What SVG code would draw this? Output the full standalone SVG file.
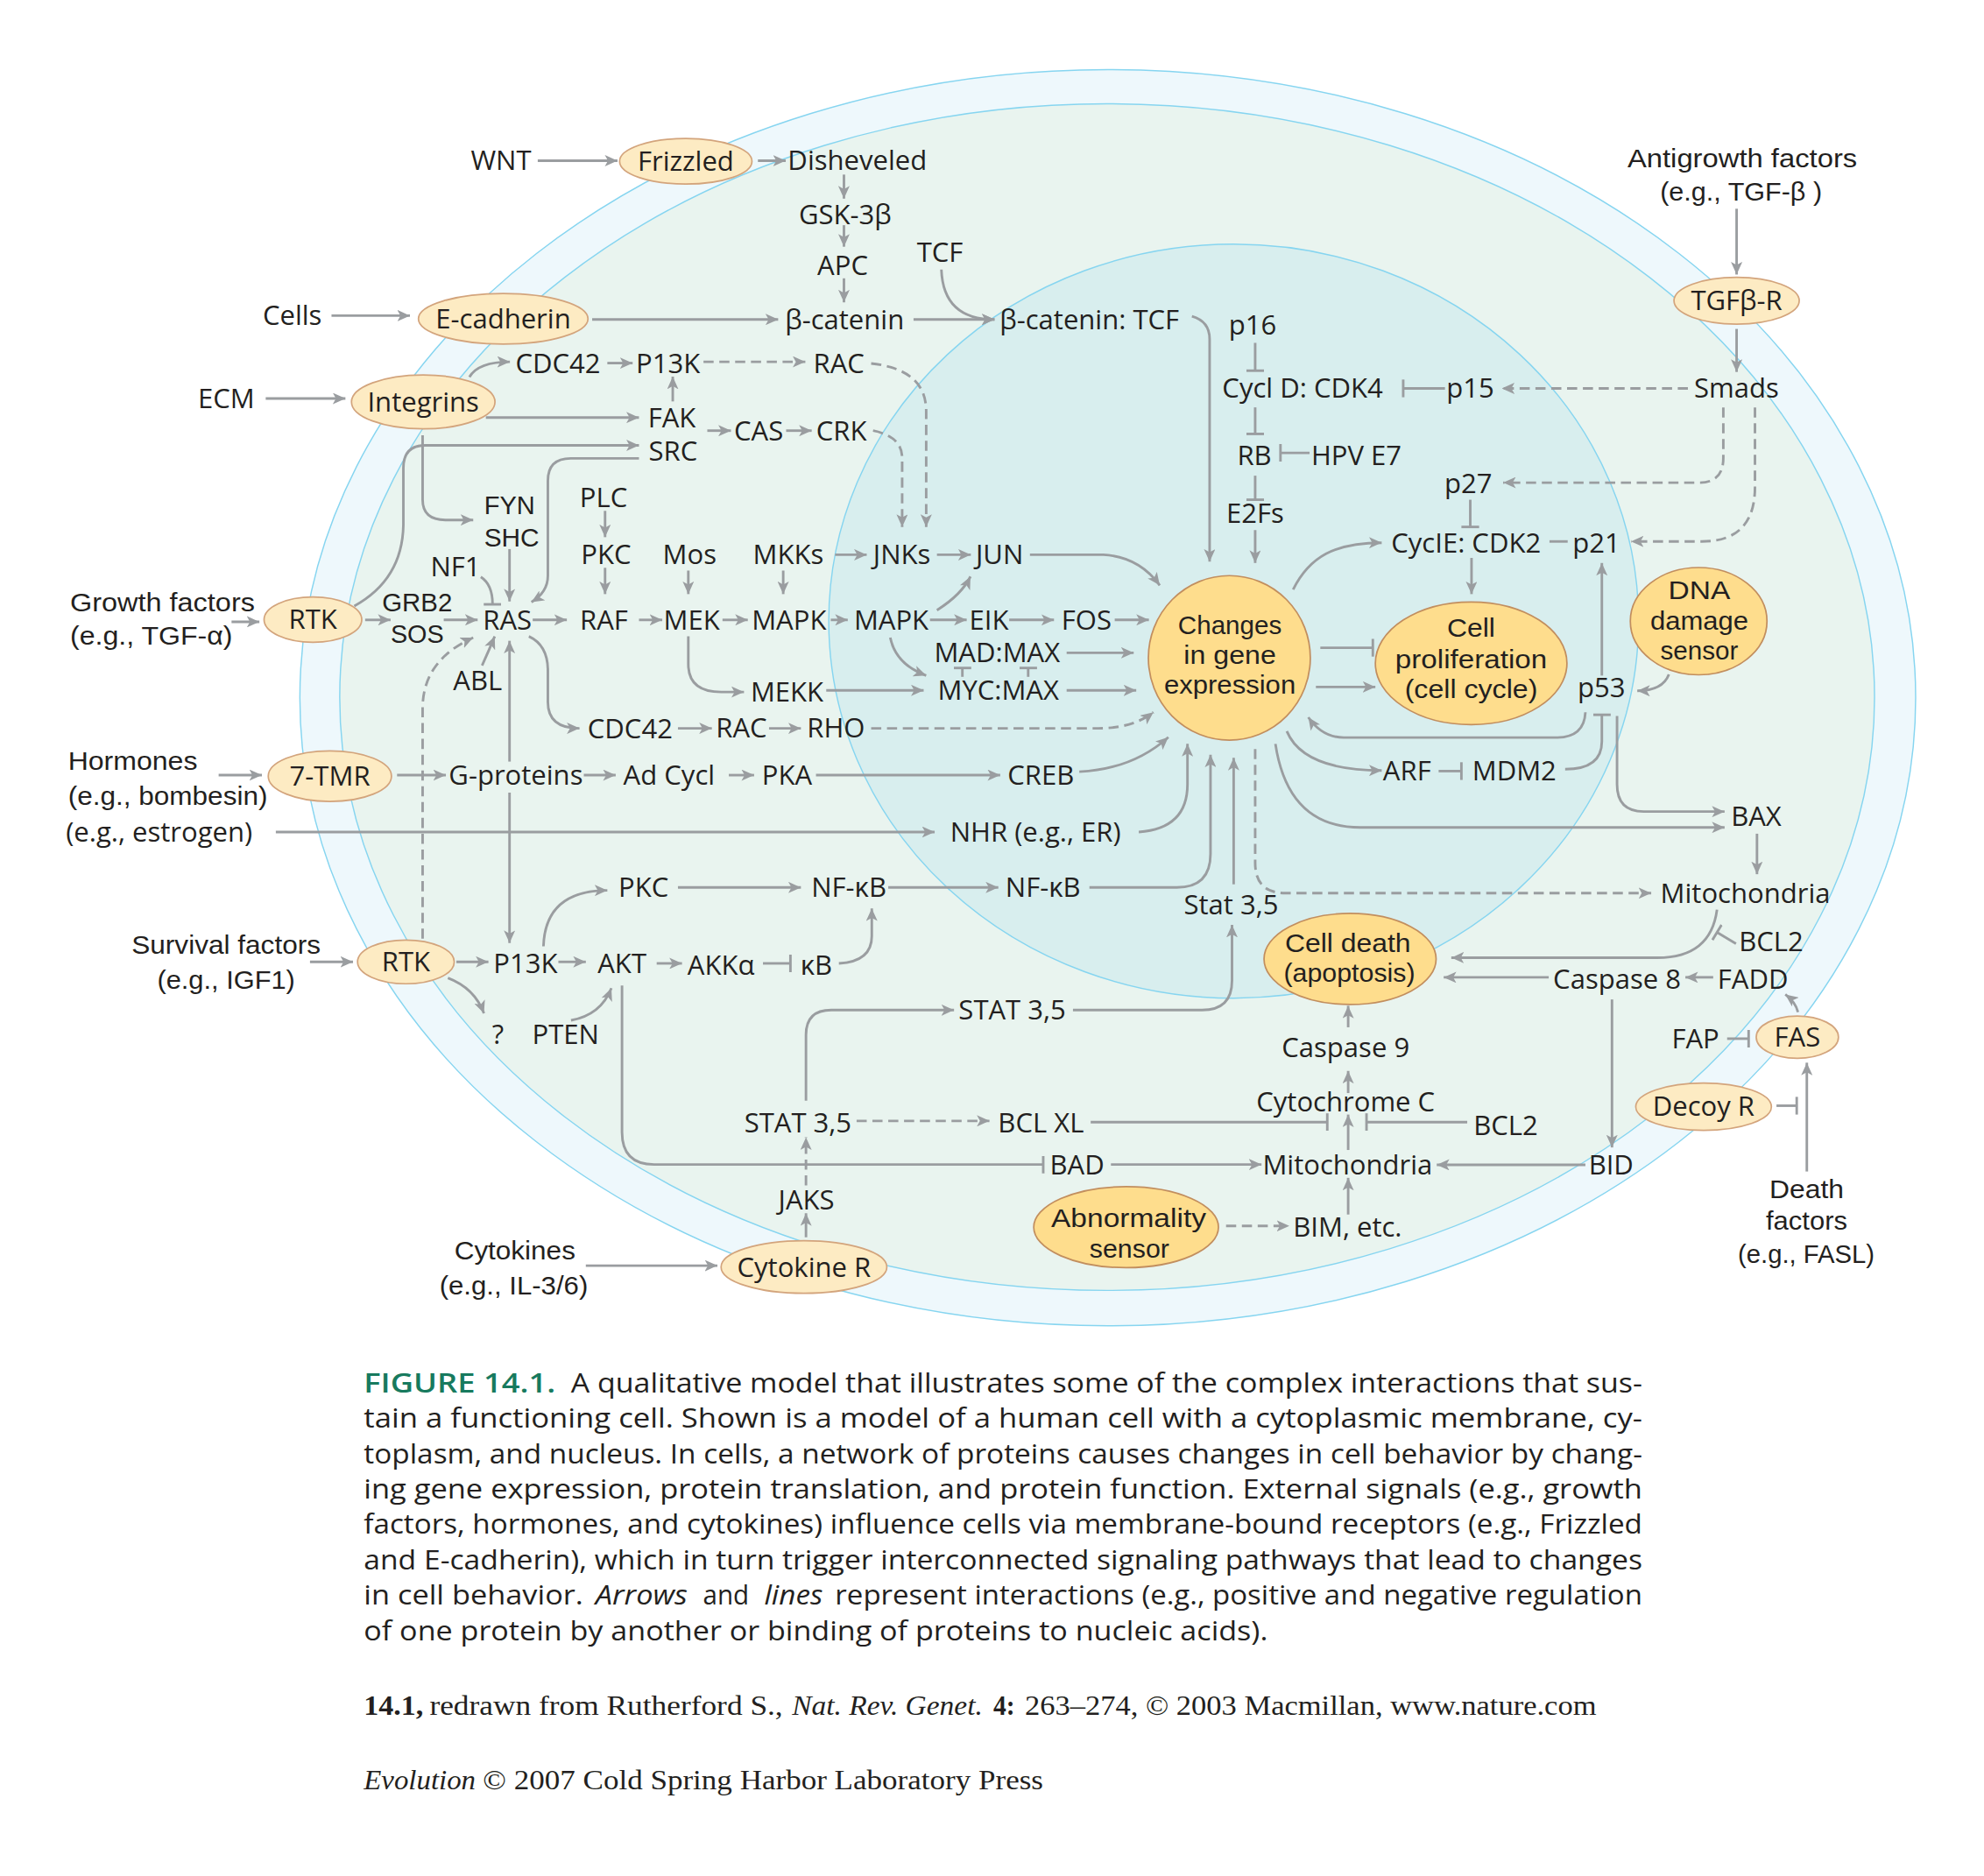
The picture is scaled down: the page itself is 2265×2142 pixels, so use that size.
<svg xmlns="http://www.w3.org/2000/svg" width="2265" height="2142" viewBox="0 0 2265 2142">
<style>
.lb{font-family:"Open Sans","Liberation Sans",sans-serif;font-size:21.5px;fill:#231f20;text-anchor:middle}
.lm{font-family:"Liberation Sans","Open Sans",sans-serif;font-size:21px;fill:#231f20;text-anchor:middle}
.c{fill:none;stroke:#9a9da0;stroke-width:2}
.d{stroke-dasharray:8 4.5}
.a{marker-end:url(#a)}
.t{marker-end:url(#t)}
.e1{fill:#fdebc3;stroke:#d3a47c;stroke-width:1.2}
.e2{fill:#fedd8d;stroke:#c28e5e;stroke-width:1.2}
.cap{font-family:"Open Sans","Liberation Sans",sans-serif;font-size:21px;fill:#231f20}
.ser{font-family:"Liberation Serif","Times New Roman",serif;font-size:22px;fill:#231f20}
.mem{stroke:#86d5f0;stroke-width:1}
</style>
<defs>
<marker id="a" viewBox="0 0 10 9" refX="10" refY="4.5" markerWidth="10" markerHeight="9" orient="auto" markerUnits="userSpaceOnUse"><path d="M0,0 L10,4.5 L0,9 L2.5,4.5 z" fill="#9a9da0"/></marker>
<marker id="t" viewBox="0 0 3 14" refX="1.5" refY="7" markerWidth="3" markerHeight="14" orient="auto" markerUnits="userSpaceOnUse"><path d="M1.5,0 V14" stroke="#9a9da0" stroke-width="2"/></marker>
</defs>
<rect width="2265" height="2142" fill="#ffffff"/>
<g transform="scale(1.4445)">
<g id="cell">
<ellipse class="mem" cx="875.5" cy="551.5" rx="638.5" ry="496.5" fill="#eef8fc"/>
<ellipse class="mem" cx="875" cy="551" rx="606.5" ry="469" fill="#e9f4ef"/>
<ellipse class="mem" cx="975" cy="491" rx="320" ry="298" fill="#d8eeee"/>
</g>
<g id="connectors">
<path class="c a" d="M425,127 H488"/>
<path class="c a" d="M599,127 H621"/>
<path class="c a" d="M667,138 V157"/>
<path class="c a" d="M667,178 V195"/>
<path class="c a" d="M667,220 V239"/>
<path class="c a" d="M262,249.5 H324"/>
<path class="c a" d="M210,315 H273"/>
<path class="c a" d="M468,252.5 H615"/>
<path class="c a" d="M722,252.5 H786"/>
<path class="c a" d="M744,213 C745,240 760,252.5 786,252.5"/>
<path class="c a" d="M942,250 Q956,254 956,268 V444"/>
<path class="c a" d="M1372.5,165 V217"/>
<path class="c a" d="M1372.5,260 V294"/>
<path class="c d a" d="M1334,307 H1187"/>
<path class="c t" d="M1142,307 H1109"/>
<path class="c t" d="M992,271 V293"/>
<path class="c t" d="M992,322 V343"/>
<path class="c t" d="M1035,358 H1012"/>
<path class="c t" d="M992,376 V395"/>
<path class="c a" d="M992,419 V445"/>
<path class="c d a" d="M1362,322 V362 Q1362,381.5 1343,381.5 H1188"/>
<path class="c d a" d="M1387,322 V385 Q1387,428 1345,428 H1289"/>
<path class="c t" d="M1162,395 V416.5"/>
<path class="c" d="M1224.6,428 H1239"/>
<path class="c a" d="M1163,441 V469.6"/>
<path class="c a" d="M1022,466 C1035,440 1055,429 1092,429"/>
<path class="c a" d="M1266,534 V445"/>
<path class="c a" d="M1319,533 Q1314,546 1294,546"/>
<path class="c a" d="M1253,563 Q1252,583 1230,583 H1062 Q1045,583 1034,567"/>
<path class="c t" d="M1237,608 Q1266,608 1266,586 V565"/>
<path class="c a" d="M1278,566 V620 Q1278,641.5 1299,641.5 H1363"/>
<path class="c a" d="M1008,588 Q1018,654 1075,654 H1363"/>
<path class="c a" d="M1017,578 Q1030,609 1092,609"/>
<path class="c t" d="M1137,609.5 H1155"/>
<path class="c t" d="M1043.5,512 H1085"/>
<path class="c a" d="M1040,543 H1087"/>
<path class="c a" d="M1388.6,659 V691"/>
<path class="c d a" d="M992,592 V682 Q992,706 1016,706 H1305"/>
<path class="c a" d="M1357,719 Q1352,757 1310,757 H1147"/>
<path class="c t" d="M1372,746 L1357,737"/>
<path class="c a" d="M1224,772.5 H1141"/>
<path class="c a" d="M1354,772.5 H1332"/>
<path class="c a" d="M1421,800 Q1419,792 1411,786"/>
<path class="c t" d="M1365,821 H1382"/>
<path class="c t" d="M1404,874 H1420"/>
<path class="c a" d="M1428,926 V840"/>
<path class="c a" d="M1274,790 V907"/>
<path class="c a" d="M1253,920.7 H1135.5"/>
<path class="c a" d="M1065.5,909 V881"/>
<path class="c a" d="M1065.5,864 V846.5"/>
<path class="c a" d="M1065.5,812 V795"/>
<path class="c a" d="M1065.5,960 V931"/>
<path class="c t" d="M1159.6,887 H1080"/>
<path class="c t" d="M862,887 H1049"/>
<path class="c a" d="M878,920.5 H997"/>
<path class="c t" d="M491.6,779 V895 Q491.6,920.5 517,920.5 H824.5"/>
<path class="c d a" d="M969,969 H1019"/>
<path class="c a" d="M463,1000.4 H567"/>
<path class="c a" d="M637,978 V959"/>
<path class="c d a" d="M637,937 V899"/>
<path class="c d a" d="M677,886 H782"/>
<path class="c a" d="M637,870 V818 Q637,798.4 657,798.4 H754"/>
<path class="c a" d="M848,798.4 H950 Q973.7,798.4 973.7,775 V731"/>
<path class="c a" d="M975,699 V599"/>
<path class="c a" d="M861,701.5 H930 Q956.7,701.5 956.7,675 V596.5"/>
<path class="c a" d="M900,657.7 Q938.5,655 938.5,620 V588"/>
<path class="c a" d="M853,610 Q895,608 923.4,582.7"/>
<path class="c d a" d="M688.5,575.7 H868 Q895,575.7 911.6,563"/>
<path class="c a" d="M843,545.7 H898"/>
<path class="c a" d="M843,516 H896"/>
<path class="c a" d="M881,490 H908"/>
<path class="c a" d="M797.6,490 H833"/>
<path class="c a" d="M735,490 H764"/>
<path class="c a" d="M740.5,482.3 Q760,470 767,455.7"/>
<path class="c a" d="M703.6,504 Q708,525 732,534"/>
<path class="c a" d="M653,545.7 H730"/>
<path class="c a" d="M544,503 V525 Q544,547 570,547 H588"/>
<path class="c t" d="M760.6,535 V528"/>
<path class="c t" d="M812.6,535 V528"/>
<path class="c a" d="M656.6,490 H670"/>
<path class="c a" d="M571,490 H591"/>
<path class="c a" d="M505,490 H523.4"/>
<path class="c a" d="M544,451 V469.6"/>
<path class="c a" d="M619,451 V469.6"/>
<path class="c a" d="M660,438.5 H685"/>
<path class="c a" d="M740.5,438.5 H767.3"/>
<path class="c a" d="M814,438.5 H872 Q900,440 916.6,462.7"/>
<path class="c d a" d="M688.5,287.3 Q732,292 732,325 V416.5"/>
<path class="c d a" d="M690,340.4 Q713,345 713,362 V416.5"/>
<path class="c d a" d="M556,286 H636.5"/>
<path class="c a" d="M531.7,317.3 V297.7"/>
<path class="c a" d="M480,287 H500"/>
<path class="c a" d="M559,340.4 H577.7"/>
<path class="c a" d="M621.3,340.4 H641.5"/>
<path class="c a" d="M371,298 Q378,286 403,286"/>
<path class="c a" d="M384,330 H505"/>
<path class="c a" d="M280,479 Q318,458 318.8,415 V370 Q318.8,352 336,352 H505"/>
<path class="c a" d="M334,344 V395 Q334,411 352,411 H374"/>
<path class="c a" d="M505,362.3 H451 Q433,362.3 433,380 V455 Q433,468 420,476"/>
<path class="c a" d="M402.7,434 V475.4"/>
<path class="c t" d="M380,456 Q389.3,462 389.3,477.7"/>
<path class="c a" d="M288.6,490 H308.7"/>
<path class="c a" d="M350.7,490 H377.5"/>
<path class="c a" d="M183,491.5 H205"/>
<path class="c a" d="M421,490 H448"/>
<path class="c a" d="M478.2,403.8 V424.6"/>
<path class="c a" d="M478.2,448.8 V469.6"/>
<path class="c a" d="M381,526 Q386,515 391,503"/>
<path class="c d a" d="M334,742 V560 Q334,522 374,504"/>
<path class="c a" d="M402.7,602 V506.5"/>
<path class="c a" d="M402.7,626.5 V745.4"/>
<path class="c a" d="M313.8,612.7 H352.4"/>
<path class="c a" d="M172.8,612.7 H207"/>
<path class="c a" d="M461.4,612.7 H486.6"/>
<path class="c a" d="M576,612.7 H596"/>
<path class="c a" d="M644.9,612.7 H790.5"/>
<path class="c a" d="M218,657.7 H738.7"/>
<path class="c a" d="M418,503 Q433,510 433,530 V555 Q433,575.7 458,575.7"/>
<path class="c a" d="M535.8,575.7 H562.6"/>
<path class="c a" d="M607.8,575.7 H633"/>
<path class="c a" d="M360.7,760.3 H386"/>
<path class="c a" d="M245,760.3 H279"/>
<path class="c a" d="M354,773 Q375,781 382.5,801"/>
<path class="c a" d="M441.3,760.3 H463"/>
<path class="c a" d="M519,761.5 H539"/>
<path class="c t" d="M603,761.5 H624.7"/>
<path class="c a" d="M663,761.5 Q689,760 689,740 V718"/>
<path class="c a" d="M451.3,806.5 Q475,802 483.2,781"/>
<path class="c a" d="M429.5,748 Q431,704 480,703.8"/>
<path class="c a" d="M535.8,701.5 H633"/>
<path class="c a" d="M702,701.5 H789"/>
</g>
<g id="nodes">
<g id="n-wnt"><text class="lb" x="396" y="134.5">WNT</text></g>
<g id="n-frizzled"><ellipse class="e1" cx="542" cy="127.5" rx="52.3" ry="18"/><text class="lb" x="542" y="135">Frizzled</text></g>
<g id="n-disheveled"><text class="lb" x="677.6" y="134.5">Disheveled</text></g>
<g id="n-gsk"><text class="lb" x="668" y="177">GSK-3β</text></g>
<g id="n-apc"><text class="lb" x="666" y="217.4">APC</text></g>
<g id="n-tcf"><text class="lb" x="742.8" y="207">TCF</text></g>
<g id="n-cells"><text class="lb" x="231" y="257">Cells</text></g>
<g id="n-ecad"><ellipse class="e1" cx="397.7" cy="252" rx="67" ry="20"/><text class="lb" x="397.7" y="259.5">E-cadherin</text></g>
<g id="n-bcat"><text class="lb" x="667.5" y="260">β-catenin</text></g>
<g id="n-bcattcf"><text class="lb" x="861" y="260">β-catenin: TCF</text></g>
<g id="n-antigrowth"><text class="lm" x="1377" y="132" textLength="181.6" lengthAdjust="spacingAndGlyphs">Antigrowth factors</text><text class="lm" x="1376" y="158.5" textLength="128" lengthAdjust="spacingAndGlyphs">(e.g., TGF-β )</text></g>
<g id="n-tgfbr"><ellipse class="e1" cx="1372.5" cy="237.7" rx="49.5" ry="18.5"/><text class="lb" x="1372.5" y="245.2">TGFβ-R</text></g>
<g id="n-p16"><text class="lb" x="990" y="264.5">p16</text></g>
<g id="n-cycld"><text class="lb" x="1029.5" y="314.4">Cycl D: CDK4</text></g>
<g id="n-p15"><text class="lb" x="1162" y="314.4">p15</text></g>
<g id="n-smads"><text class="lb" x="1372.4" y="314.4">Smads</text></g>
<g id="n-ecm"><text class="lb" x="178.8" y="322.5">ECM</text></g>
<g id="n-integrins"><ellipse class="e1" cx="334.5" cy="317.7" rx="56.7" ry="21.3"/><text class="lb" x="334.5" y="325.2">Integrins</text></g>
<g id="n-cdc42a"><text class="lb" x="441" y="294.8">CDC42</text></g>
<g id="n-p13ka"><text class="lb" x="528" y="294.8">P13K</text></g>
<g id="n-raca"><text class="lb" x="663" y="294.8">RAC</text></g>
<g id="n-fak"><text class="lb" x="531" y="337.5">FAK</text></g>
<g id="n-cas"><text class="lb" x="599.6" y="348.5">CAS</text></g>
<g id="n-crk"><text class="lb" x="665" y="348.5">CRK</text></g>
<g id="n-src"><text class="lb" x="532" y="364">SRC</text></g>
<g id="n-rb"><text class="lb" x="991.4" y="367.5">RB</text></g>
<g id="n-hpv"><text class="lb" x="1072" y="367.5">HPV E7</text></g>
<g id="n-p27"><text class="lb" x="1160.5" y="389.5">p27</text></g>
<g id="n-e2fs"><text class="lb" x="992" y="413.5">E2Fs</text></g>
<g id="n-fyn"><text class="lm" x="402.7" y="406.5" textLength="40.2" lengthAdjust="spacingAndGlyphs">FYN</text></g>
<g id="n-shc"><text class="lm" x="404.4" y="432" textLength="43.6" lengthAdjust="spacingAndGlyphs">SHC</text></g>
<g id="n-plc"><text class="lb" x="477" y="400.5">PLC</text></g>
<g id="n-pkca"><text class="lb" x="479" y="446">PKC</text></g>
<g id="n-mos"><text class="lb" x="545" y="446">Mos</text></g>
<g id="n-mkks"><text class="lb" x="623" y="446">MKKs</text></g>
<g id="n-jnks"><text class="lb" x="712.8" y="446">JNKs</text></g>
<g id="n-jun"><text class="lb" x="790" y="446">JUN</text></g>
<g id="n-cyce"><text class="lb" x="1158.7" y="436.7">CycIE: CDK2</text></g>
<g id="n-p21"><text class="lb" x="1261.7" y="436.7">p21</text></g>
<g id="n-nf1"><text class="lb" x="360" y="455.2">NF1</text></g>
<g id="n-growth"><text class="lm" x="128.4" y="483" textLength="146" lengthAdjust="spacingAndGlyphs">Growth factors</text><text class="lm" x="119.6" y="509.5" textLength="128.5" lengthAdjust="spacingAndGlyphs">(e.g., TGF-α)</text></g>
<g id="n-rtk1"><ellipse class="e1" cx="247.3" cy="489.8" rx="38.6" ry="17.9"/><text class="lb" x="247.3" y="497.3">RTK</text></g>
<g id="n-grb2sos"><text class="lm" x="329.7" y="483" textLength="55.4" lengthAdjust="spacingAndGlyphs">GRB2</text><text class="lm" x="329.7" y="508.2" textLength="42" lengthAdjust="spacingAndGlyphs">SOS</text></g>
<g id="n-ras"><text class="lb" x="401" y="497.9">RAS</text></g>
<g id="n-raf"><text class="lb" x="477.3" y="497.9">RAF</text></g>
<g id="n-mek"><text class="lb" x="546.7" y="497.5">MEK</text></g>
<g id="n-mapk1"><text class="lb" x="623.6" y="497.5">MAPK</text></g>
<g id="n-mapk2"><text class="lb" x="704.4" y="497.5">MAPK</text></g>
<g id="n-eik"><text class="lb" x="781.6" y="497.5">EIK</text></g>
<g id="n-fos"><text class="lb" x="858.7" y="497.5">FOS</text></g>
<g id="n-changes"><ellipse class="e2" cx="971.6" cy="520" rx="64" ry="65"/><text class="lm" x="972" y="501" textLength="82" lengthAdjust="spacingAndGlyphs">Changes</text><text class="lm" x="972" y="524.6" textLength="73" lengthAdjust="spacingAndGlyphs">in gene</text><text class="lm" x="972" y="548.2" textLength="104" lengthAdjust="spacingAndGlyphs">expression</text></g>
<g id="n-prolif"><ellipse class="e2" cx="1162.7" cy="524.3" rx="75.7" ry="48.5"/><text class="lm" x="1162.7" y="503.5" textLength="38" lengthAdjust="spacingAndGlyphs">Cell</text><text class="lm" x="1162.7" y="527.9" textLength="120" lengthAdjust="spacingAndGlyphs">proliferation</text><text class="lm" x="1162.7" y="551.5" textLength="105" lengthAdjust="spacingAndGlyphs">(cell cycle)</text></g>
<g id="n-dna"><ellipse class="e2" cx="1342.5" cy="491" rx="54" ry="42.4"/><text class="lm" x="1343" y="473.5" textLength="49" lengthAdjust="spacingAndGlyphs">DNA</text><text class="lm" x="1343" y="497.9" textLength="77.5" lengthAdjust="spacingAndGlyphs">damage</text><text class="lm" x="1343" y="521.5" textLength="61.6" lengthAdjust="spacingAndGlyphs">sensor</text></g>
<g id="n-madmax"><text class="lb" x="788" y="523.5">MAD:MAX</text></g>
<g id="n-mycmax"><text class="lb" x="789" y="553.2">MYC:MAX</text></g>
<g id="n-abl"><text class="lb" x="377.5" y="545.2">ABL</text></g>
<g id="n-mekk"><text class="lb" x="622" y="554.5">MEKK</text></g>
<g id="n-p53"><text class="lb" x="1265.6" y="550.9">p53</text></g>
<g id="n-cdc42b"><text class="lb" x="498" y="583.3">CDC42</text></g>
<g id="n-racb"><text class="lb" x="586" y="583.2">RAC</text></g>
<g id="n-rho"><text class="lb" x="660.7" y="583.2">RHO</text></g>
<g id="n-hormones"><text class="lm" x="104.9" y="608.6" textLength="102.3" lengthAdjust="spacingAndGlyphs">Hormones</text><text class="lm" x="132.6" y="636.3" textLength="157.7" lengthAdjust="spacingAndGlyphs">(e.g., bombesin)</text></g>
<g id="n-7tmr"><ellipse class="e1" cx="260.7" cy="613.5" rx="48.7" ry="20"/><text class="lb" x="260.7" y="621">7-TMR</text></g>
<g id="n-gprot"><text class="lb" x="407.7" y="620.2">G-proteins</text></g>
<g id="n-adcycl"><text class="lb" x="528.8" y="620.2">Ad Cycl</text></g>
<g id="n-pka"><text class="lb" x="622" y="620.2">PKA</text></g>
<g id="n-creb"><text class="lb" x="822.6" y="620.2">CREB</text></g>
<g id="n-arf"><text class="lb" x="1112" y="616.7">ARF</text></g>
<g id="n-mdm2"><text class="lb" x="1196.8" y="616.7">MDM2</text></g>
<g id="n-bax"><text class="lb" x="1388" y="652.5">BAX</text></g>
<g id="n-estrogen"><text class="lb" x="125.8" y="665.2">(e.g., estrogen)</text></g>
<g id="n-nhr"><text class="lb" x="818.4" y="665.2">NHR (e.g., ER)</text></g>
<g id="n-pkcb"><text class="lb" x="508.6" y="709">PKC</text></g>
<g id="n-nfkb1"><text class="lb" x="670.9" y="709">NF-κB</text></g>
<g id="n-nfkb2"><text class="lb" x="824.3" y="709">NF-κB</text></g>
<g id="n-statnuc"><text class="lb" x="973" y="722.8">Stat 3,5</text></g>
<g id="n-mito1"><text class="lb" x="1379.4" y="713.5">Mitochondria</text></g>
<g id="n-survival"><text class="lm" x="178.7" y="754" textLength="149.4" lengthAdjust="spacingAndGlyphs">Survival factors</text><text class="lm" x="178.7" y="781.7" textLength="109" lengthAdjust="spacingAndGlyphs">(e.g., IGF1)</text></g>
<g id="n-rtk2"><ellipse class="e1" cx="320.8" cy="760.3" rx="38.2" ry="17.3"/><text class="lb" x="320.8" y="767.8">RTK</text></g>
<g id="n-p13kb"><text class="lb" x="415.3" y="769">P13K</text></g>
<g id="n-akt"><text class="lb" x="491.6" y="769">AKT</text></g>
<g id="n-akka"><text class="lb" x="569.8" y="770.2">AKKα</text></g>
<g id="n-kb"><text class="lb" x="645.2" y="770.2">κB</text></g>
<g id="n-celldeath"><ellipse class="e2" cx="1067" cy="758" rx="68" ry="36"/><text class="lm" x="1065.3" y="752.6" textLength="99.4" lengthAdjust="spacingAndGlyphs">Cell death</text><text class="lm" x="1066.5" y="776.2" textLength="104" lengthAdjust="spacingAndGlyphs">(apoptosis)</text></g>
<g id="n-bcl2a"><text class="lb" x="1399.8" y="751.7">BCL2</text></g>
<g id="n-casp8"><text class="lb" x="1278" y="781.7">Caspase 8</text></g>
<g id="n-fadd"><text class="lb" x="1385.4" y="781.7">FADD</text></g>
<g id="n-q"><text class="lb" x="393.5" y="825.5">?</text></g>
<g id="n-pten"><text class="lb" x="447" y="825.5">PTEN</text></g>
<g id="n-stat1"><text class="lb" x="800" y="805.9">STAT 3,5</text></g>
<g id="n-fap"><text class="lb" x="1340" y="829">FAP</text></g>
<g id="n-fas"><ellipse class="e1" cx="1420.5" cy="819.8" rx="32.5" ry="16.7"/><text class="lb" x="1420.5" y="827.3">FAS</text></g>
<g id="n-casp9"><text class="lb" x="1063.5" y="835.9">Caspase 9</text></g>
<g id="n-cytc"><text class="lb" x="1063.5" y="878.6">Cytochrome C</text></g>
<g id="n-decoy"><ellipse class="e1" cx="1346.4" cy="874.8" rx="53.6" ry="18.7"/><text class="lb" x="1346.4" y="882.3">Decoy R</text></g>
<g id="n-stat2"><text class="lb" x="630.6" y="894.8">STAT 3,5</text></g>
<g id="n-bclxl"><text class="lb" x="822.7" y="894.8">BCL XL</text></g>
<g id="n-bcl2b"><text class="lb" x="1190" y="897.1">BCL2</text></g>
<g id="n-bad"><text class="lb" x="851.2" y="928.2">BAD</text></g>
<g id="n-mito2"><text class="lb" x="1065" y="928.2">Mitochondria</text></g>
<g id="n-bid"><text class="lb" x="1273.3" y="928.2">BID</text></g>
<g id="n-jaks"><text class="lb" x="637.3" y="955.9">JAKS</text></g>
<g id="n-death"><text class="lm" x="1427.8" y="946.7" textLength="58.9" lengthAdjust="spacingAndGlyphs">Death</text><text class="lm" x="1427.8" y="972.1" textLength="64.4" lengthAdjust="spacingAndGlyphs">factors</text><text class="lm" x="1427.5" y="998.6" textLength="108" lengthAdjust="spacingAndGlyphs">(e.g., FASL)</text></g>
<g id="n-abnormality"><ellipse class="e2" cx="890" cy="970" rx="73" ry="32"/><text class="lm" x="892" y="969.8" textLength="122.5" lengthAdjust="spacingAndGlyphs">Abnormality</text><text class="lm" x="892.6" y="994" textLength="63" lengthAdjust="spacingAndGlyphs">sensor</text></g>
<g id="n-bim"><text class="lb" x="1065" y="977.8">BIM, etc.</text></g>
<g id="n-cytokines"><text class="lm" x="406.9" y="995.2" textLength="95.7" lengthAdjust="spacingAndGlyphs">Cytokines</text><text class="lm" x="406" y="1022.9" textLength="117.4" lengthAdjust="spacingAndGlyphs">(e.g., IL-3/6)</text></g>
<g id="n-cytokiner"><ellipse class="e1" cx="635.4" cy="1001.5" rx="65.5" ry="20.8"/><text class="lb" x="635.4" y="1009">Cytokine R</text></g>
</g>
<g id="caption">
<text class="cap" x="287.5" y="1100.7" textLength="151.5" lengthAdjust="spacingAndGlyphs" style="fill:#177a5e;font-weight:600">FIGURE 14.1.</text>
<text class="cap" x="451.2" y="1100.7" textLength="846.8" lengthAdjust="spacingAndGlyphs">A qualitative model that illustrates some of the complex interactions that sus-</text>
<text class="cap" x="287.5" y="1128.7" textLength="1010.5" lengthAdjust="spacingAndGlyphs">tain a functioning cell. Shown is a model of a human cell with a cytoplasmic membrane, cy-</text>
<text class="cap" x="287.5" y="1156.6" textLength="1010.5" lengthAdjust="spacingAndGlyphs">toplasm, and nucleus. In cells, a network of proteins causes changes in cell behavior by chang-</text>
<text class="cap" x="287.5" y="1184.6" textLength="1010.5" lengthAdjust="spacingAndGlyphs">ing gene expression, protein translation, and protein function. External signals (e.g., growth</text>
<text class="cap" x="287.5" y="1212.5" textLength="1010.5" lengthAdjust="spacingAndGlyphs">factors, hormones, and cytokines) influence cells via membrane-bound receptors (e.g., Frizzled</text>
<text class="cap" x="287.5" y="1240.5" textLength="1010.5" lengthAdjust="spacingAndGlyphs">and E-cadherin), which in turn trigger interconnected signaling pathways that lead to changes</text>
<text class="cap" x="287.5" y="1268.5" textLength="173.5" lengthAdjust="spacingAndGlyphs">in cell behavior.</text>
<text class="cap" x="470.6" y="1268.5" textLength="72.8" lengthAdjust="spacingAndGlyphs" font-style="italic">Arrows</text>
<text class="cap" x="555.6" y="1268.5" textLength="36.4" lengthAdjust="spacingAndGlyphs">and</text>
<text class="cap" x="604" y="1268.5" textLength="46.3" lengthAdjust="spacingAndGlyphs" font-style="italic">lines</text>
<text class="cap" x="660" y="1268.5" textLength="638" lengthAdjust="spacingAndGlyphs">represent interactions (e.g., positive and negative regulation</text>
<text class="cap" x="287.5" y="1296.4" textLength="714.5" lengthAdjust="spacingAndGlyphs">of one protein by another or binding of proteins to nucleic acids).</text>
<text class="ser" x="287.5" y="1355.7" textLength="47.1" lengthAdjust="spacingAndGlyphs" font-weight="bold">14.1,</text>
<text class="ser" x="339.5" y="1355.7" textLength="279.2" lengthAdjust="spacingAndGlyphs">redrawn from Rutherford S.,</text>
<text class="ser" x="626" y="1355.7" textLength="150.6" lengthAdjust="spacingAndGlyphs" font-style="italic">Nat. Rev. Genet.</text>
<text class="ser" x="785" y="1355.7" textLength="17" lengthAdjust="spacingAndGlyphs" font-weight="bold">4:</text>
<text class="ser" x="810" y="1355.7" textLength="451.7" lengthAdjust="spacingAndGlyphs">263–274, © 2003 Macmillan, www.nature.com</text>
<text class="ser" x="287.5" y="1414.5" textLength="88.4" lengthAdjust="spacingAndGlyphs" font-style="italic">Evolution</text>
<text class="ser" x="381.7" y="1414.5" textLength="442.8" lengthAdjust="spacingAndGlyphs">© 2007 Cold Spring Harbor Laboratory Press</text>
</g>
</g>
</svg>
